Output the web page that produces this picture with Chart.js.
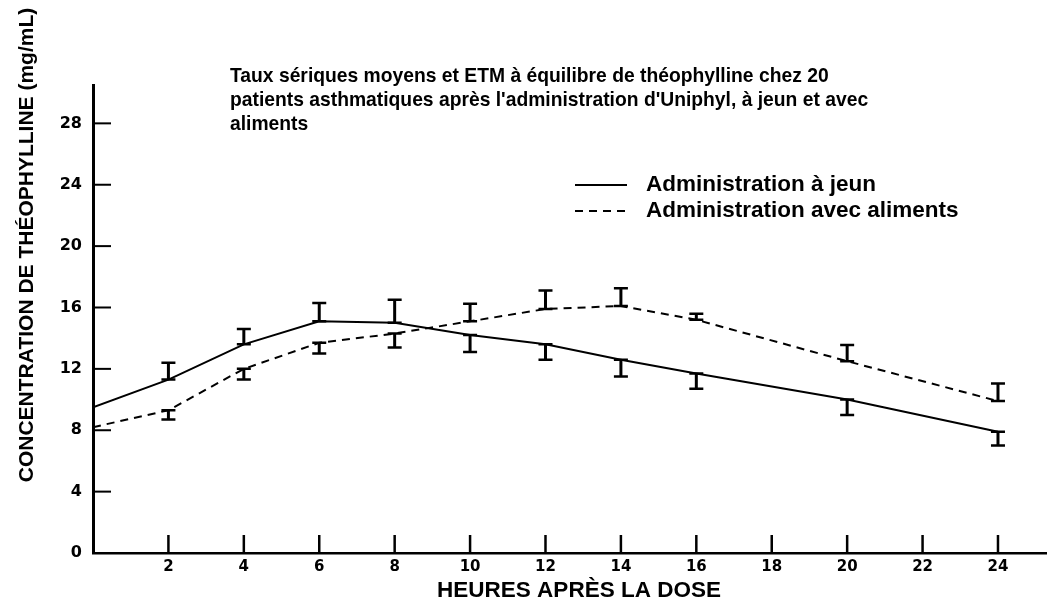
<!DOCTYPE html>
<html><head><meta charset="utf-8">
<script src="https://cdn.jsdelivr.net/npm/chart.js@4.4.0/dist/chart.umd.min.js"></script>
<style>html,body{margin:0;padding:0;background:#fff;}#wrap{width:1047px;height:601px;}</style>
</head><body><div id="wrap"><canvas id="c" width="1047" height="601"></canvas></div>
<script>
// ---- data ----
const hours = [0, 2, 4, 6, 8, 10, 12, 14, 16, 20, 24];
const jeun = [9.5, 11.3, 13.6, 15.1, 15.0, 14.2, 13.6, 12.6, 11.7, 10.0, 7.9];
// one-sided SEM (positive = drawn upward, negative = drawn downward)
const jeunSem = [null, 1.1, 1.0, 1.2, 1.5, -1.1, -1.0, -1.1, -1.0, -1.0, -0.9];
const aliments = [8.2, 9.3, 12.0, 13.7, 14.3, 15.1, 15.9, 16.1, 15.2, 12.5, 9.9];
const alimentsSem = [null, -0.6, -0.7, -0.7, -0.9, 1.15, 1.2, 1.15, 0.4, 1.05, 1.15];
const xTicks = [2, 4, 6, 8, 10, 12, 14, 16, 18, 20, 22, 24];
const yTicks = [0, 4, 8, 12, 16, 20, 24, 28];
const titleLines = [
  "Taux sériques moyens et ETM à équilibre de théophylline chez 20",
  "patients asthmatiques après l'administration d'Uniphyl, à jeun et avec",
  "aliments"
];
const seriesNames = ["Administration à jeun", "Administration avec aliments"];
const xTitle = "HEURES APRÈS LA DOSE";
const yTitle = "CONCENTRATION DE THÉOPHYLLINE (mg/mL)";

const FONT = "'Liberation Sans', Arial, sans-serif";
const TICKFONT = "'DejaVu Sans', sans-serif";

const semSets = [jeunSem, alimentsSem];

const errorBars = {
  id: 'errorBars',
  afterDatasetsDraw(chart) {
    const ctx = chart.ctx, xs = chart.scales.x, ys = chart.scales.y;
    ctx.save();
    ctx.strokeStyle = '#000';
    chart.data.datasets.forEach((ds, di) => {
      const sem = semSets[di];
      const vals = di === 0 ? jeun : aliments;
      hours.forEach((h, i) => {
        if (sem[i] == null) return;
        const px = xs.getPixelForValue(h);
        const y0 = ys.getPixelForValue(vals[i]);
        const y1 = ys.getPixelForValue(vals[i] + sem[i]);
        ctx.lineWidth = 3;
        ctx.beginPath(); ctx.moveTo(px, y0); ctx.lineTo(px, y1); ctx.stroke();
        ctx.lineWidth = 2.5;
        ctx.beginPath();
        ctx.moveTo(px - 7, y0); ctx.lineTo(px + 7, y0);
        ctx.moveTo(px - 7, y1); ctx.lineTo(px + 7, y1);
        ctx.stroke();
      });
    });
    ctx.restore();
  }
};

const decorations = {
  id: 'decorations',
  afterDraw(chart) {
    const ctx = chart.ctx, xs = chart.scales.x, ys = chart.scales.y, a = chart.chartArea;
    ctx.save();
    ctx.strokeStyle = '#000'; ctx.fillStyle = '#000';
    // inward tick marks
    ctx.lineWidth = 2.5;
    xTicks.forEach(v => {
      const px = xs.getPixelForValue(v);
      ctx.beginPath(); ctx.moveTo(px, a.bottom); ctx.lineTo(px, a.bottom - 18); ctx.stroke();
    });
    ctx.lineWidth = 2;
    yTicks.filter(v => v > 0).forEach(v => {
      const py = ys.getPixelForValue(v);
      ctx.beginPath(); ctx.moveTo(a.left, py); ctx.lineTo(a.left + 18, py); ctx.stroke();
    });
    // title
    ctx.font = "bold 19.3px " + FONT;
    ctx.textAlign = 'left'; ctx.textBaseline = 'alphabetic';
    titleLines.forEach((t, i) => ctx.fillText(t, 230, 82 + i * 24));
    // legend
    ctx.font = "bold 22.5px " + FONT;
    ctx.textBaseline = 'middle';
    ctx.lineWidth = 2;
    ctx.setLineDash([]);
    ctx.beginPath(); ctx.moveTo(575, 185); ctx.lineTo(627, 185); ctx.stroke();
    ctx.fillText(seriesNames[0], 646, 185);
    ctx.setLineDash([8, 6]);
    ctx.beginPath(); ctx.moveTo(575, 211); ctx.lineTo(627, 211); ctx.stroke();
    ctx.setLineDash([]);
    ctx.fillText(seriesNames[1], 646, 211);
    // axis titles
    ctx.font = "bold 22.5px " + FONT;
    ctx.textAlign = 'center'; ctx.textBaseline = 'alphabetic';
    ctx.fillText(xTitle, 579, 597);
    ctx.font = "bold 21px " + FONT;
    ctx.translate(33, 245);
    ctx.rotate(-Math.PI / 2);
    ctx.fillText(yTitle, 0, 0);
    ctx.restore();
  }
};

new Chart(document.getElementById('c'), {
  type: 'line',
  data: {
    datasets: [
      { label: seriesNames[0], data: hours.map((h, i) => ({ x: h, y: jeun[i] })),
        borderColor: '#000', borderWidth: 2, pointRadius: 0, tension: 0, fill: false },
      { label: seriesNames[1], data: hours.map((h, i) => ({ x: h, y: aliments[i] })),
        borderColor: '#000', borderWidth: 2, borderDash: [8, 6], pointRadius: 0, tension: 0, fill: false }
    ]
  },
  options: {
    responsive: false, animation: false, devicePixelRatio: 1,
    layout: { padding: { top: 85, left: 0, right: 0, bottom: 0 } },
    plugins: { legend: { display: false }, tooltip: { enabled: false }, title: { display: false } },
    scales: {
      x: {
        type: 'linear', min: 0, max: 25.3,
        afterBuildTicks: s => { s.ticks = xTicks.map(v => ({ value: v })); },
        afterFit: s => { s.height = 48; },
        ticks: { color: '#000', font: { family: TICKFONT, size: 15, weight: 'bold' }, padding: 5, maxRotation: 0, autoSkip: false },
        grid: { display: true, drawOnChartArea: false, drawTicks: false },
        border: { display: true, color: '#000', width: 2.5 }
      },
      y: {
        type: 'linear', min: 0, max: 30.5,
        afterBuildTicks: s => { s.ticks = yTicks.map(v => ({ value: v })); },
        afterFit: s => { s.width = 93; },
        ticks: { color: '#000', font: { family: TICKFONT, size: 16, weight: 'bold' }, padding: 11, autoSkip: false },
        grid: { display: true, drawOnChartArea: false, drawTicks: false },
        border: { display: true, color: '#000', width: 3 }
      }
    }
  },
  plugins: [errorBars, decorations]
});
</script></body></html>
